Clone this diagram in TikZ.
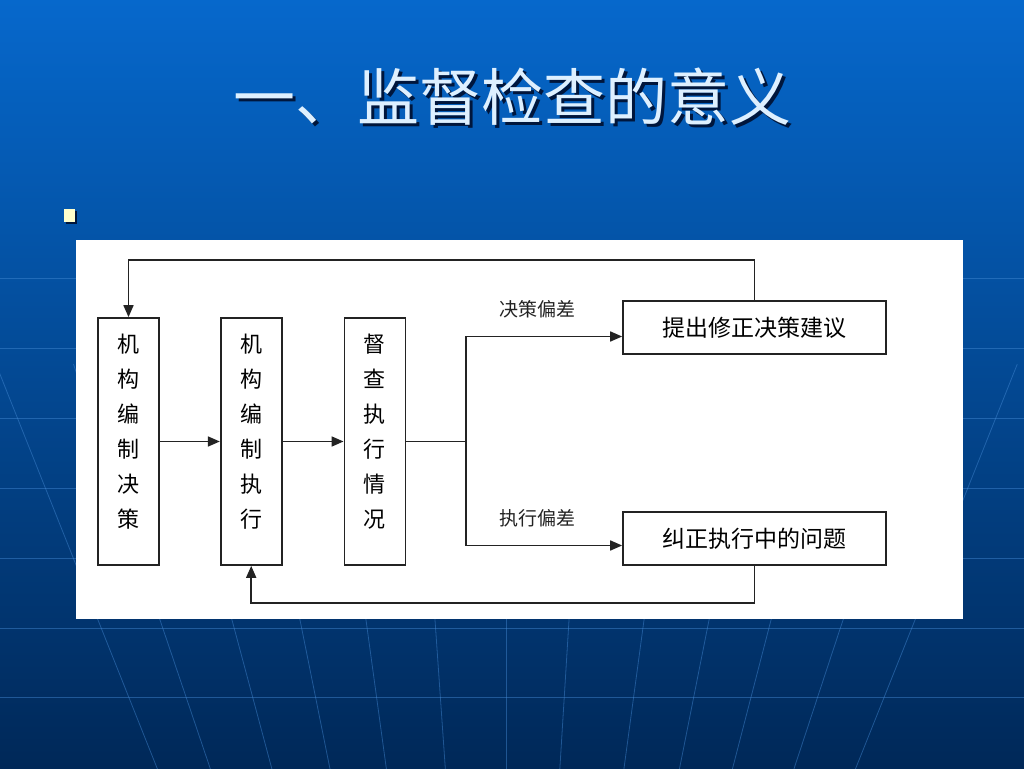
\documentclass[tikz,border=0pt]{standalone}
\usepackage{fontspec}
\setmainfont{Noto Sans CJK SC}
\usetikzlibrary{arrows.meta,calc,positioning}

\definecolor{bgtop}{RGB}{6,104,204}
\definecolor{bgmid}{RGB}{0,84,164}
\definecolor{bgbot}{RGB}{0,40,88}
\definecolor{gridc}{RGB}{70,140,215}
\definecolor{titlec}{RGB}{222,240,255}
\definecolor{shadowc}{RGB}{0,22,60}
\definecolor{bullc}{RGB}{255,255,204}
\definecolor{linec}{RGB}{35,35,35}

\begin{document}
\begin{tikzpicture}[x=1pt,y=1pt,
    vbox/.style={draw=linec, line width=1.7pt, fill=white, minimum width=61pt, minimum height=247pt,
        inner sep=0pt, align=center, font=\fontsize{22}{35}\selectfont, text depth=22pt},
    hbox/.style={draw=linec, line width=1.7pt, fill=white, minimum width=263pt, minimum height=53pt,
        inner sep=0pt, font=\fontsize{23}{28}\selectfont},
    conn/.style={draw=linec, line width=1.7pt},
    flow/.style={conn, -{Triangle[length=12pt,width=10pt]}},
    devlabel/.style={font=\fontsize{19}{23}\selectfont, text=linec},
    gridline/.style={gridc, line width=0.8pt, opacity=0.45}]

    % Sfondo
    \useasboundingbox (0,0) rectangle (1024,768);
    \shade[top color=bgtop, middle color=bgmid, bottom color=bgbot] (0,0) rectangle (1024,768);
    \begin{scope}
        \clip (0,0) rectangle (1024,768);
        \coordinate (vanish) at (506,-875);
        \foreach \yy in {490,420,350,280,210,140,71}
            \draw[gridline] (0,\yy) -- (1024,\yy);
        \foreach \xx in {98,160,232,300,366,435,506,569,644,709,771,843,915}
            \draw[gridline] (vanish) -- ($(vanish)!1.25!(\xx,148)$);
    \end{scope}

    % Titolo
    \node[font=\fontsize{62}{72}\selectfont, text=shadowc] (titleshadow) at (515,668) {一、监督检查的意义};
    \node[font=\fontsize{62}{72}\selectfont, text=titlec] (title) at (512,671) {一、监督检查的意义};

    % Punto elenco
    \fill[shadowc] (66,544) rectangle (77,557);
    \fill[bullc] (64,546) rectangle (75,559);

    % Pannello bianco
    \fill[white] (76,149) rectangle (963,528);

    % Blocchi verticali
    \node[vbox] (plan) at (128.5,326.5) {机\\构\\编\\制\\决\\策};
    \node[vbox, right=60pt of plan] (exec) {机\\构\\编\\制\\执\\行};
    \node[vbox, right=61pt of exec] (check) {督\\查\\执\\行\\情\\况};

    % Blocchi orizzontali
    \node[hbox] (fix) at (754.5,440.5) {提出修正决策建议};
    \node[hbox] (corr) at (754.5,229.5) {纠正执行中的问题};

    % Frecce
    \draw[flow] (plan) -- (exec);
    \draw[flow] (exec) -- (check);
    \coordinate (split) at ($(check.east)+(60,0)$);
    \draw[conn] (check) -- (split);
    \coordinate (inFix) at ([yshift=-9pt]fix.west);
    \coordinate (inCorr) at ([yshift=-7pt]corr.west);
    \draw[flow] (split) |- (inFix);
    \draw[flow] (split) |- (inCorr);

    % Ritorni
    \coordinate (topY) at (0,508);
    \coordinate (botY) at (0,165);
    \draw[flow] (fix.north) -- (fix.north |- topY) -| (plan.north);
    \draw[flow] (corr.south) -- (corr.south |- botY) -| (exec.south);

    % Etichette
    \node[devlabel] (devplan) at (537,459) {决策偏差};
    \node[devlabel] (devexec) at (537,250) {执行偏差};
\end{tikzpicture}
\end{document}
